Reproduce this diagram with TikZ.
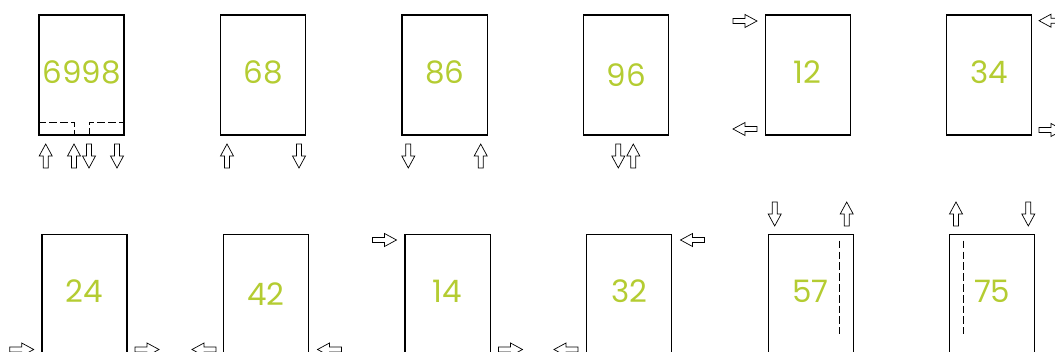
\documentclass[tikz,border=0pt]{standalone}
\usepackage{fontspec}
\setmainfont{Poppins}
\usepackage{xcolor}
\usepackage{tikz}
\definecolor{pagegreen}{RGB}{180,204,50}
\usetikzlibrary{positioning,calc}

\begin{document}
\begin{tikzpicture}[
    x=0.025cm, y=-0.025cm,
    node distance=4.5375cm,
    page/.style={rectangle, minimum width=2.125cm, minimum height=3cm, draw=black, line width=0.85pt, inner sep=0pt, text depth=0.15cm, text=pagegreen, font=\fontsize{22}{26}\selectfont},
    fold/.style={dashed, dash pattern=on 5.5pt off 2.2pt, line width=0.6pt},
    feed/.pic={\draw[line width=0.5pt, fill=white] (-12,-2.5) -- (0,-2.5) -- (0,-6.5) -- (12,0) -- (0,6.5) -- (0,2.5) -- (-12,2.5) -- cycle;}
]
\clip (0,0) rectangle (1055,352);

% top row
\node[page] (p6998) at (81.5,75) {6998};
\node[page, right of=p6998] (p68) {68};
\node[page, right of=p68] (p86) {86};
\node[page, right of=p86, text depth=0pt] (p96) {96};
\node[page, right of=p96] (p12) {12};
\node[page, right of=p12] (p34) {34};

% bottom row
\node[page] (p24) at (84.5,294.5) {24};
\node[page, right of=p24, text depth=0pt] (p42) {42};
\node[page, right of=p42] (p14) {14};
\node[page, right of=p14] (p32) {32};
\node[page, right of=p32] (p57) {57};
\node[page, right of=p57] (p75) {75};

% fold lines
\draw[fold] (p6998.west |- {(0,122.3)}) -- (74,122.3) -- ({(74,0)} |- p6998.south);
\draw[fold] ({(89,0)} |- p6998.south) -- (89,122.3) -- (p6998.east |- {(0,122.3)});
\draw[fold] (839.3,240.7) -- (839.3,334);
\draw[fold] (963.7,240.7) -- (963.7,334);

% feed arrows, top row
\pic[rotate=90] at (45.7,156) {feed};
\pic[rotate=90] at (74,156) {feed};
\pic[rotate=-90] at (89,156) {feed};
\pic[rotate=-90] at (117,156) {feed};
\pic[rotate=90] at (227,156) {feed};
\pic[rotate=-90] at (299,156) {feed};
\pic[rotate=-90] at (408.3,156) {feed};
\pic[rotate=90] at (480.7,156) {feed};
\pic[rotate=-90] at (618.3,156) {feed};
\pic[rotate=90] at (633.3,156) {feed};
\pic at (745,21) {feed};
\pic[rotate=180] at (745,129) {feed};
\pic[rotate=180] at (1051,20.7) {feed};
\pic at (1051,130) {feed};

% feed arrows, bottom row
\pic at (21.7,349.5) {feed};
\pic at (147,349.5) {feed};
\pic[rotate=180] at (204,349.5) {feed};
\pic[rotate=180] at (329.5,349.5) {feed};
\pic at (384.5,240) {feed};
\pic at (510.5,349.5) {feed};
\pic[rotate=180] at (692.5,240) {feed};
\pic[rotate=180] at (566,349.5) {feed};
\pic[rotate=-90] at (774.7,214) {feed};
\pic[rotate=90] at (846.7,214) {feed};
\pic[rotate=90] at (956,214) {feed};
\pic[rotate=-90] at (1028.3,214) {feed};

\end{tikzpicture}
\end{document}
